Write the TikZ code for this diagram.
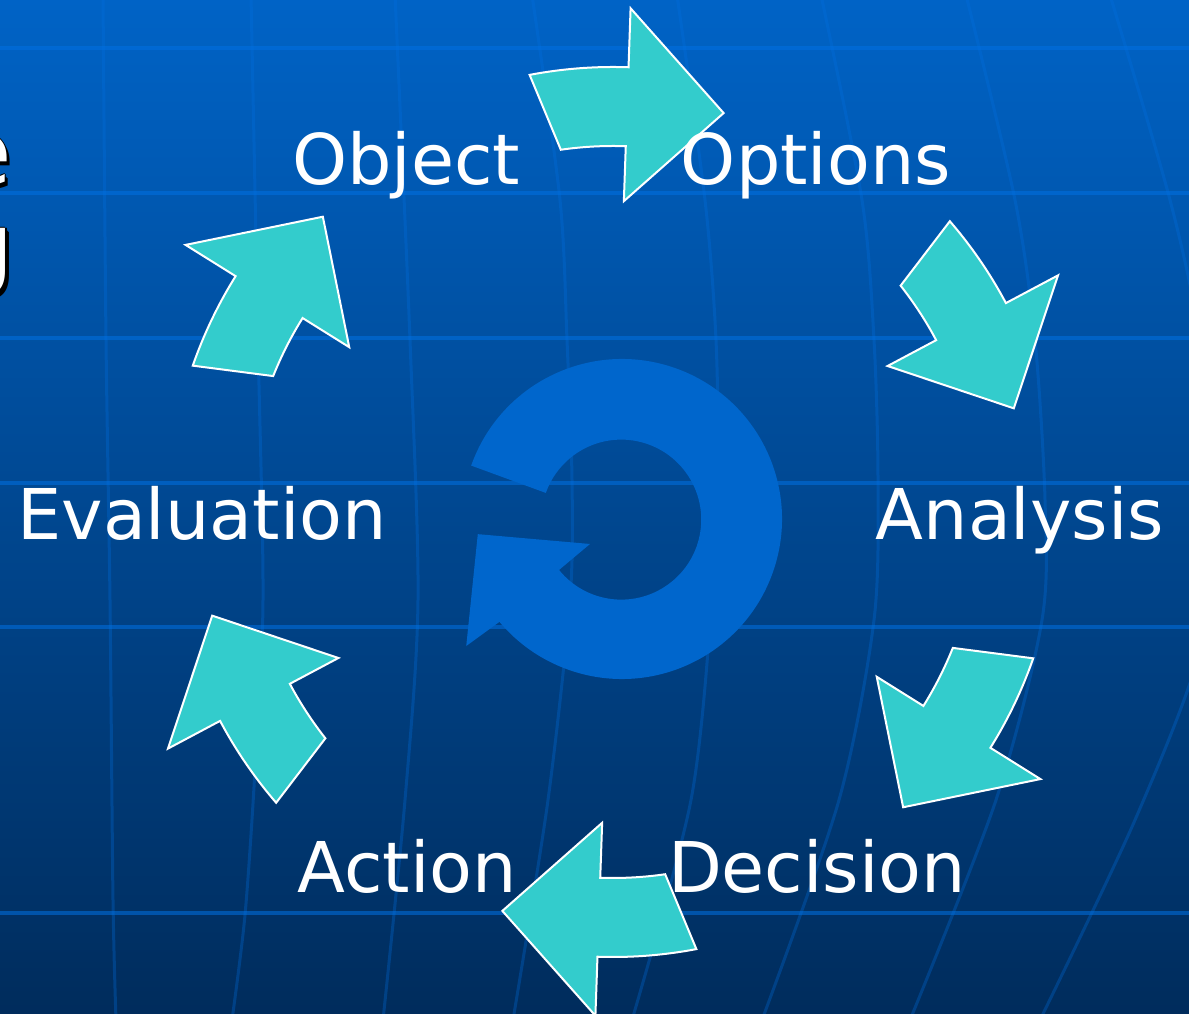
\documentclass[tikz,border=0pt]{standalone}
\usepackage{fontspec}
\setmainfont{DejaVu Sans}
\definecolor{bgtop}{RGB}{0,99,198}
\definecolor{bgmid}{RGB}{0,76,152}
\definecolor{bgbot}{RGB}{0,44,92}
\definecolor{gridblue}{RGB}{0,112,226}
\definecolor{petalteal}{RGB}{51,204,204}
\definecolor{ringblue}{RGB}{0,102,204}
% white glyph with a black outline and a drop shadow, set as one box
\newcommand\haloglyph[1]{%
  \makebox[0pt][l]{\hspace*{-1.5pt}\textcolor{black}{#1}}%
  \makebox[0pt][l]{\hspace*{1.5pt}\textcolor{black}{#1}}%
  \makebox[0pt][l]{\raisebox{1.5pt}{\textcolor{black}{#1}}}%
  \makebox[0pt][l]{\raisebox{-1.5pt}{\textcolor{black}{#1}}}%
  \makebox[0pt][l]{\hspace*{2.5pt}\raisebox{-2.5pt}{\textcolor{black}{#1}}}%
  \makebox[0pt][l]{\hspace*{3.5pt}\raisebox{-3.5pt}{\textcolor{black}{#1}}}%
  \textcolor{white}{#1}}
\begin{document}
\begin{tikzpicture}[x=1pt,y=1pt,
  lbl/.style={text=white, font=\fontsize{70}{80}\selectfont, anchor=base, inner sep=0pt},
  ttl/.style={font=\fontsize{90}{100}\selectfont, anchor=base east, inner sep=0pt},
  petal/.style={fill=petalteal, draw=white, line width=2pt, line join=miter},
  hline/.style={draw=gridblue, draw opacity=0.55, line width=3.5pt},
  meridian/.style={draw=gridblue, draw opacity=0.3, line width=3pt}
]
\useasboundingbox (0,0) rectangle (1189,1014);
\clip (0,0) rectangle (1189,1014);

% background
\shade[top color=bgtop, middle color=bgmid, bottom color=bgbot] (0,0) rectangle (1189,1014);

% globe grid, in screen coordinates (y downwards)
\begin{scope}[shift={(0,1014)}, yscale=-1]
  \draw[meridian] plot[smooth] coordinates {(103,-5) (106,340) (110,600) (113,900) (116,1020)};
  \draw[meridian] plot[smooth] coordinates {(251,-5) (258,340) (263,600) (255,770) (245,915) (232,1020)};
  \draw[meridian] plot[smooth] coordinates {(395,-5) (410,340) (418,600) (405,800) (383,1020)};
  \draw[meridian] plot[smooth] coordinates {(532,-5) (560,200) (567,340) (572,480) (570,600) (548,800) (513,1020)};
  \draw[meridian] plot[smooth] coordinates {(677,-5) (705,200) (716,340) (718,480) (712,600) (691,800) (632,1020)};
  \draw[meridian] plot[smooth] coordinates {(821,-5) (862,200) (874,340) (878,480) (874,620) (839,800) (762,1020)};
  \draw[meridian] plot[smooth] coordinates {(966,-5) (1015,200) (1035,340) (1045,500) (1042,620) (996,800) (910,1020)};
  \draw[meridian] plot[smooth] coordinates {(1110,-5) (1170,200) (1200,340) (1215,500) (1200,650) (1135,820) (1040,1020)};
  \foreach \gy in {48,193,338,483,627,913}
    \draw[hline] (0,\gy) -- (1189,\gy);
\end{scope}

% title text running off the left edge
\node[ttl] (titleA) at (12,829) {\haloglyph{e}};
\node[ttl] (titleB) at (14,736) {\haloglyph{g}};

% central circular arrow
\begin{scope}[shift={(622,495)}]
  \fill[ringblue] (160.5:160) arc[start angle=160.5, end angle=-140, radius=160]
    -- (-140.8:201) -- (-174:145) -- (-142:40.6) -- (-141:81)
    arc[start angle=-141, end angle=160.5, radius=80] -- cycle;
\end{scope}

% six curved arrows of the cycle
\begin{scope}[shift={(613,502)}]
  \foreach \p in {88,28,-32,-92,-152,148}{
    \draw[petal] ({\p+12.8}:445) arc[start angle={\p+12.8}, end angle=\p, radius=445]
      -- (\p:504) -- ({\p-13.5}:414) -- (\p:311) -- (\p:366)
      arc[start angle=\p, end angle={\p+10.2}, radius=366] -- cycle;
  }
\end{scope}

% stage labels
\node[lbl] (object)     at (406,829) {Object};
\node[lbl] (options)    at (816,829) {Options};
\node[lbl] (analysis)   at (1020,474) {Analysis};
\node[lbl] (decision)   at (817,121) {Decision};
\node[lbl] (action)     at (407,121) {Action};
\node[lbl] (evaluation) at (202,474) {Evaluation};
\end{tikzpicture}
\end{document}
